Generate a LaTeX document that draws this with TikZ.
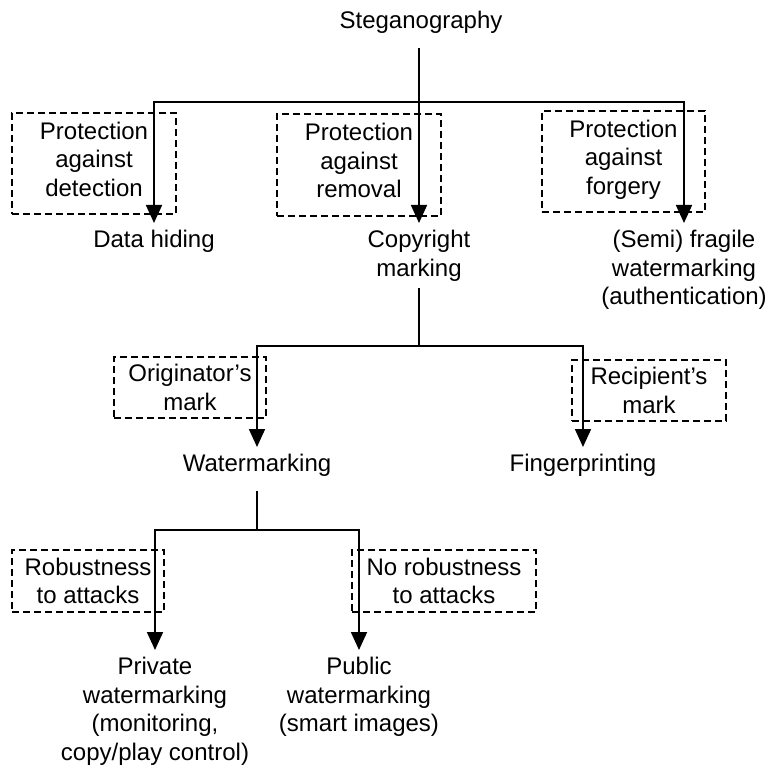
\documentclass[tikz,border=0pt]{standalone}
\usepackage{fontspec}
\setmainfont{Liberation Sans}
\usetikzlibrary{arrows.meta}

\begin{document}
\begin{tikzpicture}[x=1pt,y=-1pt,>={Triangle[width=16pt,length=18pt]},
  every node/.style={font=\fontsize{24}{28.5}\selectfont},
  lbl/.style={align=center,inner xsep=0pt,inner ysep=7pt,anchor=north},
  crit/.style={draw,dash pattern=on 7pt off 4pt,line width=1.3pt,align=center,inner sep=0pt},
  link/.style={line width=1.8pt}]
  \useasboundingbox (0,0) rectangle (772,770);

  % Criteria boxes (drawn first, the arrows run over them)
  \node[crit,text depth=9pt,minimum width=164pt,minimum height=101pt] (detect) at (94,163.5) {Protection\\against\\detection};
  \node[crit,text depth=9pt,minimum width=164pt,minimum height=102pt] (remove) at (359,165) {Protection\\against\\removal};
  \node[crit,text depth=9pt,minimum width=163pt,minimum height=101pt] (forge) at (623.5,161.5) {Protection\\against\\forgery};
  \node[crit,minimum width=152pt,minimum height=61pt] (orig) at (190,387.5) {Originator's\\mark};
  \node[crit,minimum width=154pt,minimum height=61pt] (recip) at (649,390.5) {Recipient's\\mark};
  \node[crit,minimum width=152pt,minimum height=62pt] (robust) at (88,581) {Robustness\\to attacks};
  \node[crit,minimum width=184pt,minimum height=62pt] (norobust) at (444,581) {No robustness\\to attacks};

  % Tree
  \node[lbl] (steg) at (421,4) {Steganography};
  \node[lbl] (hiding) at (154,223) {Data hiding};
  \node[lbl] (copy) at (419,223) {Copyright\\marking};
  \node[lbl] (fragile) at (684,223) {(Semi) fragile\\watermarking\\(authentication)};
  \node[lbl] (wmark) at (257,447) {Watermarking};
  \node[lbl] (fprint) at (583,447) {Fingerprinting};
  \node[lbl] (private) at (155,650) {Private\\watermarking\\(monitoring,\\copy/play control)};
  \node[lbl] (public) at (359,650) {Public\\watermarking\\(smart images)};

  % Branch points
  \coordinate (split1) at (419,102);
  \coordinate (split2) at (419,346);
  \coordinate (split3) at (257,530);

  % Connectors
  \draw[link] ([yshift=-7pt]steg.south -| split1) -- (split1);
  \draw[link,->] (split1) -| (hiding.north);
  \draw[link,->] (split1) -- (copy.north);
  \draw[link,->] (split1) -| (fragile.north);

  \draw[link] (copy.south) -- (split2);
  \draw[link,->] (split2) -| (wmark.north);
  \draw[link,->] (split2) -| (fprint.north);

  \draw[link] ([yshift=-7pt]wmark.south) -- (split3);
  \draw[link,->] (split3) -| (private.north);
  \draw[link,->] (split3) -| (public.north);
\end{tikzpicture}
\end{document}
